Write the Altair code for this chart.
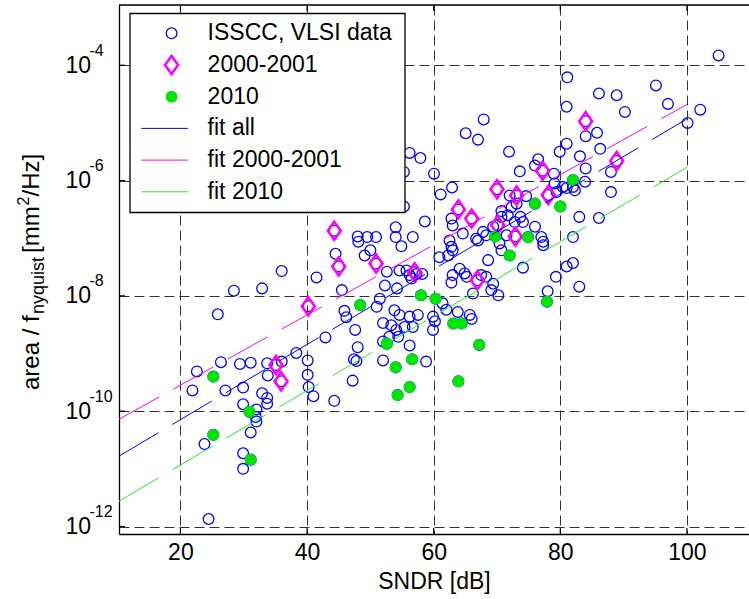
import altair as alt
import pandas as pd

# ---------------- data (log10 of area/f_nyquist) ----------------
# ISSCC / VLSI data points (the 2000-2001 and 2010 designs are added below as well)
sndr_isscc = [
    25.9, 26.4, 22.6, 21.9, 27.1, 29.4, 31.1, 29.9, 29.9, 32.9, 33.7, 33.7, 32.0, 31.9, 32.0,
    31.1, 33.7, 33.8, 36.0, 38.3, 23.8, 29.9, 29.9, 24.45, 28.45, 32.9, 36.0,
    40.1, 40.1, 40.25, 41.0, 42.9, 44.3, 41.5, 44.5, 45.5, 45.9, 46.2, 47.6, 48.0, 47.4, 47.8,
    47.2, 48.0, 48.1,
    49.5, 50.9, 49.1, 50.0, 54.0, 54.0, 54.9, 56.7, 58.6, 52.6, 52.3, 51.5, 51.0, 54.2, 54.6,
    55.7, 56.2, 56.5, 57.3, 58.2, 53.8, 54.6, 56.2, 57.5, 53.3, 54.1, 55.4, 56.7, 53.0, 54.4,
    56.2, 52.0, 52.0, 52.0, 58.8, 56.2, 57.9, 55.3, 55.3, 59.9, 59.9, 60.2,
    61.4, 62.0, 60.05, 61.1, 62.9, 65.05, 67.0, 67.9, 71.9, 73.6, 76.0, 76.5, 79.0, 79.9,
    62.8, 63.0, 64.6, 62.5, 62.8, 63.0, 62.3, 60.9, 66.7, 67.0, 67.8, 70.7, 71.7, 72.8, 73.7,
    74.1, 70.7, 72.3, 73.1, 74.6, 72.0, 79.1, 79.4, 80.4, 76.0, 77.0, 77.3, 77.3, 71.5, 68.6,
    70.7, 70.4, 64.1, 64.9, 65.2, 63.0, 62.8, 67.5, 68.3, 69.4, 69.1, 70.2, 66.2, 78.0, 79.3,
    65.7, 66.0, 63.8, 74.1, 68.3, 69.4,
    81.0, 81.0, 81.1, 105.0, 95.1, 86.1, 88.9, 90.2, 97.0, 102.1, 100.1, 85.8, 84.0, 86.3,
    83.1, 84.0, 88.0, 83.9, 82.0, 81.0, 82.3, 88.0, 83.0, 86.1, 82.0, 82.0, 81.0, 83.0,
]
log_area_isscc = [
    -8.32, -9.15, -9.31, -9.64, -9.64, -9.18, -9.16, -9.59, -9.88, -9.69, -9.77, -9.87, -9.97,
    -10.10, -10.18, -10.37, -9.17, -9.38, -9.14, -8.99, -10.57, -10.73, -11.00, -11.87, -7.91,
    -7.87, -7.57,
    -9.12, -9.37, -9.58, -9.74, -8.72, -9.82, -7.68, -7.27, -7.90, -8.26, -8.37, -8.59, -8.89,
    -9.10, -9.13, -9.47, -6.97, -7.06,
    -6.98, -6.98, -7.30, -7.21, -6.81, -6.98, -7.14, -6.98, -6.71, -7.58, -7.82, -8.05, -8.19,
    -7.87, -7.56, -7.56, -7.64, -7.70, -7.62, -7.62, -8.25, -8.33, -8.36, -8.33, -8.51, -8.59,
    -8.54, -8.54, -8.71, -8.71, -8.86, -8.47, -8.79, -9.12, -9.14, -5.52, -5.61, -5.85, -6.45,
    -8.59, -8.36, -8.44,
    -8.13, -8.24, -5.88, -6.24, -6.12, -5.18, -5.29, -4.94, -5.50, -5.84, -5.74, -5.63, -5.88,
    -5.50, -6.66, -6.78, -6.92, -7.04, -7.15, -7.21, -7.30, -7.33, -7.01, -7.04, -6.89, -6.63,
    -6.60, -6.72, -6.63, -6.72, -6.53, -6.46, -6.40, -6.27, -6.26, -6.05, -6.20, -6.11, -6.80,
    -6.98, -7.06, -7.12, -6.95, -7.38, -7.21, -7.09, -7.53, -7.61, -7.67, -7.64, -7.77, -7.64,
    -7.67, -7.79, -7.90, -7.99, -7.96, -7.92, -7.67, -8.33, -8.40, -8.28, -7.51, -6.95, -6.80,
    -5.36, -4.72, -4.21, -3.83, -4.35, -4.49, -4.52, -4.81, -4.67, -4.77, -5.00, -5.17, -5.23,
    -5.45, -5.58, -5.79, -5.85, -6.02, -6.11, -6.13, -6.17, -6.20, -6.63, -6.65, -6.98, -7.43,
    -7.49, -7.84,
]
# designs from 2000-2001
sndr_2000 = [35.1, 35.9, 40.2, 44.3, 45.0, 50.9, 57.0, 63.9, 66.0, 66.9, 70.0, 70.1, 73.1,
             72.9, 77.2, 78.1, 84.0, 88.9]
log_area_2000 = [-9.20, -9.48, -8.18, -6.87, -7.49, -7.44, -7.59, -6.50, -6.66, -7.73, -6.15,
                 -6.77, -6.26, -6.97, -5.83, -6.25, -4.97, -5.66]
# designs from 2010
sndr_2010 = [25.2, 25.2, 30.9, 31.1, 48.4, 52.6, 54.0, 54.3, 56.2, 56.6, 58.0, 60.3, 63.1,
             64.4, 63.9, 67.2, 69.7, 72.0, 74.9, 76.0, 77.9, 80.0, 82.0]
log_area_2010 = [-9.40, -10.41, -10.01, -10.84, -8.16, -8.83, -9.24, -9.72, -9.58, -9.10,
                 -7.99, -8.05, -8.48, -8.48, -9.48, -8.85, -6.97, -7.30, -6.98, -6.40, -8.10,
                 -6.45, -5.99]
# straight-line fits (end points)
fit_sndr = [10.3, 100.0]
fit_all_log = [-10.78, -4.93]
fit_2000_log = [-10.14, -4.68]
fit_2010_log = [-11.56, -5.77]

x_ticks = [20, 40, 60, 80, 100]
y_ticks = [-12, -10, -8, -6, -4]
y_tick_exp = ["-12", "-10", "-8", "-6", "-4"]
legend_labels = ["ISSCC, VLSI data", "2000-2001", "2010", "fit all", "fit 2000-2001", "fit 2010"]
y_title_parts = ["area / f", "nyquist", "[mm", "2", "/Hz]"]
x_title = "SNDR [dB]"

# ---------------- styling ----------------
W, H = 630, 529
FONT = "Liberation Sans"
BLUE = "#0000ff"
MAG = "#ff00ff"
GRN = "#00e600"
GRN_LINE = "#22ee22"
DIAMOND = "M0,-1L0.72,0L0,1L-0.72,0Z"
CIRCLE_SIZE = 115
GREEN_SIZE = 140
DIAMOND_SIZE = 330

xs = alt.Scale(domain=[10.3, 109.8], nice=False, zero=False)
ys = alt.Scale(domain=[-12.13, -2.955], nice=False, zero=False)

common_axis = dict(grid=True, gridDash=[10, 5], gridColor="black", gridOpacity=0.8, gridWidth=1,
                   ticks=False, domain=True, domainColor="black", domainWidth=1.3,
                   labelFont=FONT, labelFontSize=23, labelColor="black")
x_axis = alt.Axis(values=x_ticks, labelPadding=7, title=x_title, titleFont=FONT,
                  titleFontSize=23, titleFontWeight="normal", titleColor="black",
                  titlePadding=6, labelFlush=False, **common_axis)
y_axis = alt.Axis(values=y_ticks, labelExpr="'10'", labelPadding=28.5, title=None,
                  labelBaseline="middle", **common_axis)

X = alt.X("x:Q", scale=xs, axis=x_axis)
Y = alt.Y("y:Q", scale=ys, axis=y_axis)

df_circ = pd.DataFrame({"x": sndr_isscc + sndr_2000 + sndr_2010,
                        "y": log_area_isscc + log_area_2000 + log_area_2010})
df_2000 = pd.DataFrame({"x": sndr_2000, "y": log_area_2000})
df_2010 = pd.DataFrame({"x": sndr_2010, "y": log_area_2010})

circles = alt.Chart(df_circ).mark_point(shape="circle", size=CIRCLE_SIZE, filled=False,
                                        color=BLUE, strokeWidth=1.3, opacity=1,
                                        clip=True).encode(x=X, y=Y)
diamonds = alt.Chart(df_2000).mark_point(shape=DIAMOND, size=DIAMOND_SIZE, filled=False,
                                         color=MAG, strokeWidth=2.5, opacity=1,
                                         clip=True).encode(x=X, y=Y)
greens = alt.Chart(df_2010).mark_point(shape="circle", size=GREEN_SIZE, filled=True, color=GRN,
                                       opacity=1, strokeWidth=0, clip=True).encode(x=X, y=Y)

fits = []
for vals, col in [(fit_all_log, BLUE), (fit_2000_log, MAG), (fit_2010_log, GRN_LINE)]:
    d = pd.DataFrame({"x": fit_sndr, "y": vals})
    fits.append(alt.Chart(d).mark_line(color=col, strokeWidth=1, strokeDash=[46, 16],
                                       clip=True).encode(x=X, y=Y))

# inward ticks and top frame line
df_xt = pd.DataFrame({"x": x_ticks})
df_yt = pd.DataFrame({"y": y_ticks, "e": y_tick_exp})
ticks_bottom = alt.Chart(df_xt).mark_rule(color="black", strokeWidth=1.2).encode(
    x=X, y=alt.value(H), y2=alt.value(H - 6))
ticks_top = alt.Chart(df_xt).mark_rule(color="black", strokeWidth=1.2).encode(
    x=X, y=alt.value(0), y2=alt.value(6))
ticks_left = alt.Chart(df_yt).mark_rule(color="black", strokeWidth=1.2).encode(
    y=Y, x=alt.value(0), x2=alt.value(6))
top_line = alt.Chart(pd.DataFrame({"a": [0]})).mark_rule(color="black", strokeWidth=1.3).encode(
    x=alt.value(0), x2=alt.value(W), y=alt.value(0))
exps = alt.Chart(df_yt).mark_text(align="left", baseline="middle", dy=-14.5, font=FONT,
                                  fontSize=16, color="black").encode(
    y=Y, x=alt.value(-29.5), text="e:N")

# legend
LX0, LX1, LY0, LY1 = 11, 286, 8.5, 207.5
legend_box = alt.Chart(pd.DataFrame({"a": [0]})).mark_rect(
    fill="white", stroke="black", strokeWidth=1.3).encode(
    x=alt.value(LX0), x2=alt.value(LX1), y=alt.value(LY0), y2=alt.value(LY1))
rows = [28.3 + 31.7 * i for i in range(6)]
SYM_X, TXT_X, L0, L1 = 52.6, 88.6, 22.3, 68.9
leg = [legend_box]
leg.append(alt.Chart(pd.DataFrame({"a": [0]})).mark_point(
    shape="circle", size=CIRCLE_SIZE, filled=False, color=BLUE, strokeWidth=1.3, opacity=1).encode(
    x=alt.value(SYM_X), y=alt.value(rows[0])))
leg.append(alt.Chart(pd.DataFrame({"a": [0]})).mark_point(
    shape=DIAMOND, size=DIAMOND_SIZE, filled=False, color=MAG, strokeWidth=2.5, opacity=1).encode(
    x=alt.value(SYM_X), y=alt.value(rows[1])))
leg.append(alt.Chart(pd.DataFrame({"a": [0]})).mark_point(
    shape="circle", size=GREEN_SIZE, filled=True, color=GRN, opacity=1).encode(
    x=alt.value(SYM_X), y=alt.value(rows[2])))
for i, col in zip([3, 4, 5], [BLUE, MAG, GRN_LINE]):
    leg.append(alt.Chart(pd.DataFrame({"a": [0]})).mark_rule(color=col, strokeWidth=1).encode(
        x=alt.value(L0), x2=alt.value(L1), y=alt.value(rows[i])))
for i, lab in enumerate(legend_labels):
    leg.append(alt.Chart(pd.DataFrame({"t": [lab]})).mark_text(
        align="left", baseline="middle", font=FONT, fontSize=23, color="black").encode(
        x=alt.value(TXT_X), y=alt.value(rows[i]), text="t:N"))

# y-axis title built from pieces (subscript / superscript)
title_specs = [  # (text index, x, y, size)
    (0, -80.5, 385.0, 24),
    (1, -75.0, 309.0, 18),
    (2, -80.5, 248.0, 24),
    (3, -90.5, 200.5, 16),
    (4, -80.5, 191.5, 24),
]
ytitle = []
for idx, tx, ty, fs in title_specs:
    ytitle.append(alt.Chart(pd.DataFrame({"t": [y_title_parts[idx]]})).mark_text(
        align="left", baseline="alphabetic", angle=270, font=FONT, fontSize=fs,
        color="black").encode(x=alt.value(tx), y=alt.value(ty), text="t:N"))

chart = alt.layer(
    circles, diamonds, greens, *fits, ticks_bottom, ticks_top, ticks_left, top_line, exps,
    *leg, *ytitle
).properties(
    width=W, height=H,
    padding={"left": 119, "top": 5, "right": 0, "bottom": 65},
    autosize=alt.AutoSizeParams(type="none"),
).configure_view(stroke=None).configure(background="white")

chart.save("out.html", embed_options={"renderer": "svg", "actions": False})
